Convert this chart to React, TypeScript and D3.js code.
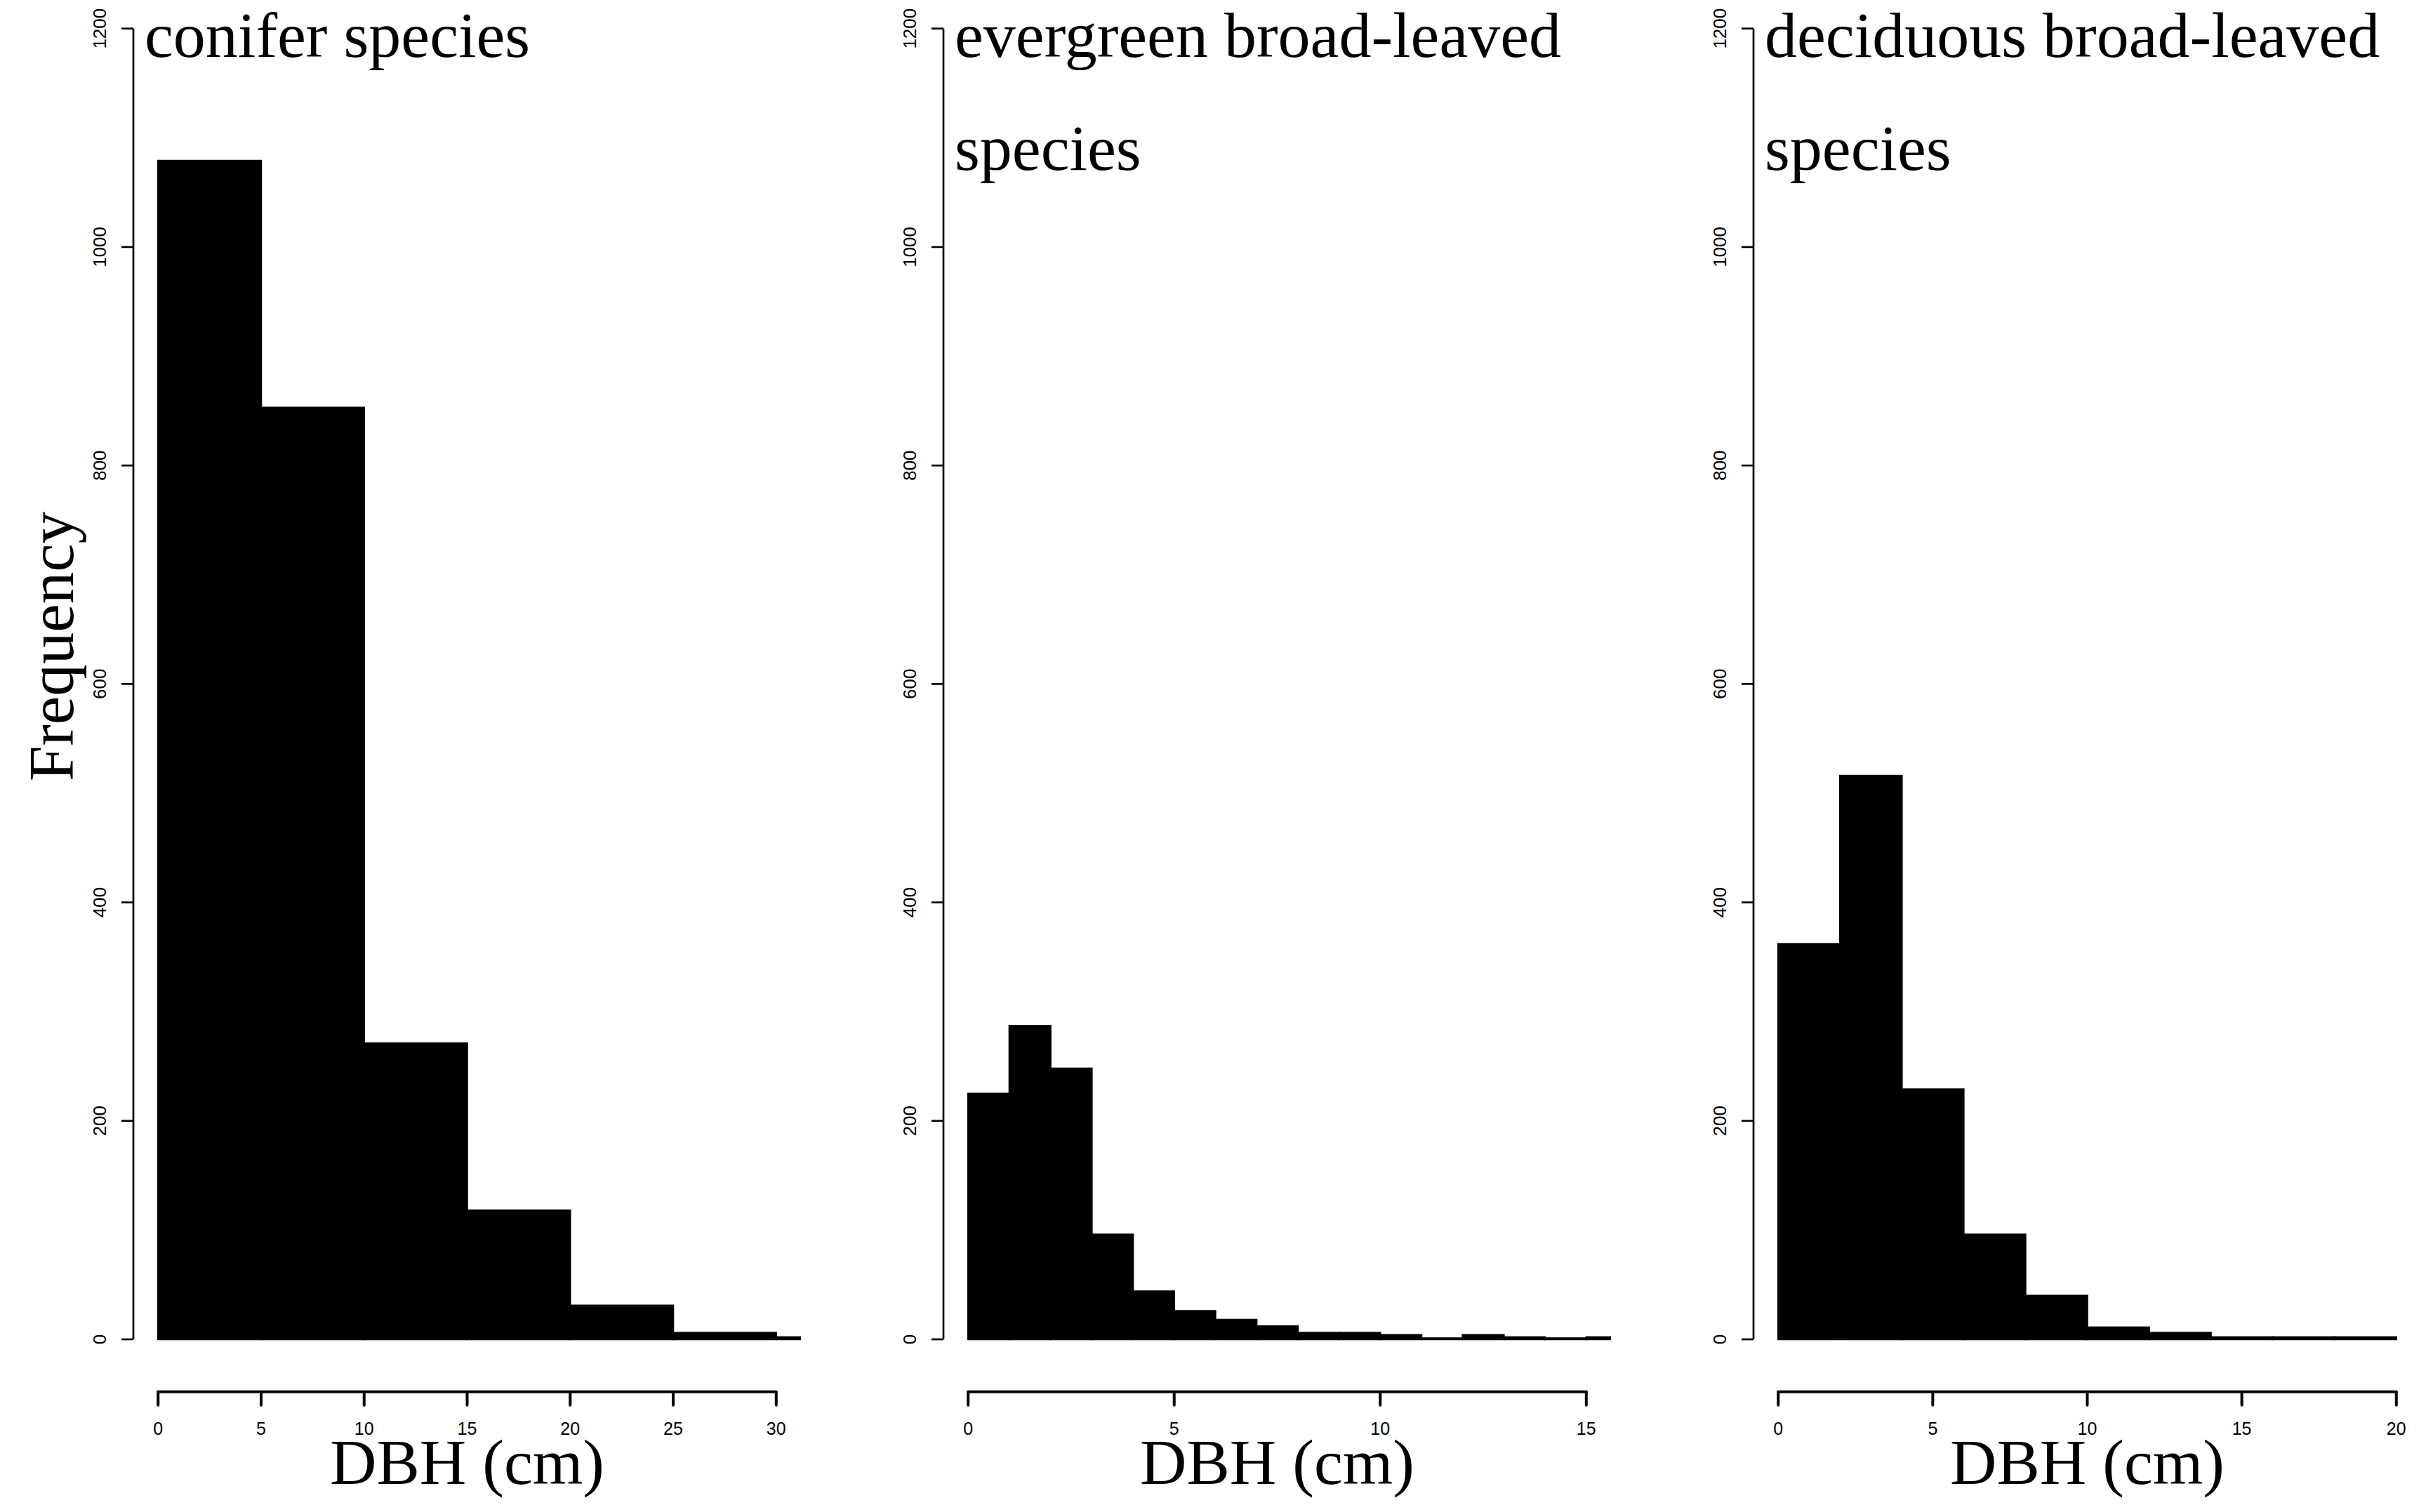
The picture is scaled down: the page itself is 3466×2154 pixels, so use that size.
import React from 'react';
import * as d3 from 'd3';

// histogram data
const coniferBreaks = [0, 5, 10, 15, 20, 25, 30, 35];
const coniferCounts = [1079, 853, 271, 118, 31, 6, 2];
const coniferTicks = [0, 5, 10, 15, 20, 25, 30];

const evergreenBreaks = [0, 1, 2, 3, 4, 5, 6, 7, 8, 9, 10, 11, 12, 13, 14, 15, 16];
const evergreenCounts = [225, 287, 248, 96, 44, 26, 18, 12, 6, 6, 4, 1, 4, 2, 1, 2];
const evergreenTicks = [0, 5, 10, 15];

const deciduousBreaks = [0, 2, 4, 6, 8, 10, 12, 14, 16, 18, 20];
const deciduousCounts = [362, 516, 229, 96, 40, 11, 6, 2, 2, 2];
const deciduousTicks = [0, 5, 10, 15, 20];

const yTicks = [0, 200, 400, 600, 800, 1000, 1200];

const W = 3466;
const H = 2154;
const PLOT_W = 951;
const SERIF = '"Liberation Serif", "Times New Roman", serif';
const SANS = '"Liberation Sans", Arial, sans-serif';

interface PanelProps {
  id: string;
  left: number;
  breaks: number[];
  counts: number[];
  xlim: [number, number];
  xTicks: number[];
  title: string[];
  showYLabel?: boolean;
}

const Panel: React.FC<PanelProps> = ({ id, left, breaks, counts, xlim, xTicks, title, showYLabel }) => {
  // R style 4% axis padding
  const pad = (xlim[1] - xlim[0]) * 0.04;
  const x = d3.scaleLinear().domain([xlim[0] - pad, xlim[1] + pad]).range([left, left + PLOT_W]);
  const y = d3.scaleLinear().domain([-48, 1248]).range([1982.7, -34]);

  const right = left + PLOT_W;
  const axisY = y(-48);
  const cx = (left + right) / 2;

  const bins = counts.map((c, i) => ({ x0: breaks[i], x1: breaks[i + 1], c }));

  return (
    <g>
      <defs>
        <clipPath id={`clip-${id}`}>
          <rect x={left} y={y(1248)} width={PLOT_W} height={axisY - y(1248)} />
        </clipPath>
      </defs>

      {/* bars */}
      <g clipPath={`url(#clip-${id})`}>
        {bins.map((b, i) => (
          <rect
            key={i}
            x={x(b.x0)}
            y={y(b.c)}
            width={x(b.x1) - x(b.x0)}
            height={y(0) - y(b.c)}
            fill="#000"
            stroke="#000"
            strokeWidth={2.5}
          />
        ))}
      </g>

      {/* y axis */}
      <line x1={left} x2={left} y1={y(0)} y2={y(1200)} stroke="#000" strokeWidth={2.7} />
      {yTicks.map((t) => (
        <g key={t}>
          <line x1={left - 17} x2={left} y1={y(t)} y2={y(t)} stroke="#000" strokeWidth={2.7} />
          <text
            transform={`translate(${left - 48},${y(t)}) rotate(-90)`}
            textAnchor="middle"
            dominantBaseline="central"
            fontFamily={SANS}
            fontSize={26}
            fill="#000"
          >
            {t}
          </text>
        </g>
      ))}

      {/* x axis */}
      <line
        x1={x(xTicks[0])}
        x2={x(xTicks[xTicks.length - 1])}
        y1={axisY}
        y2={axisY}
        stroke="#000"
        strokeWidth={4}
        strokeLinecap="round"
      />
      {xTicks.map((t) => (
        <g key={t}>
          <line x1={x(t)} x2={x(t)} y1={axisY} y2={axisY + 19} stroke="#000" strokeWidth={4} strokeLinecap="round" />
          <text x={x(t)} y={2044} textAnchor="middle" fontFamily={SANS} fontSize={25} fill="#000">
            {t}
          </text>
        </g>
      ))}

      <text x={cx} y={2114} textAnchor="middle" fontFamily={SERIF} fontSize={92} fill="#000">
        DBH (cm)
      </text>

      {/* panel title */}
      {title.map((line, i) => (
        <text key={i} x={left + 16} y={81 + i * 161} fontFamily={SERIF} fontSize={92} fill="#000">
          {line}
        </text>
      ))}

      {showYLabel && (
        <text
          transform={`translate(104,921) rotate(-90)`}
          textAnchor="middle"
          fontFamily={SERIF}
          fontSize={91}
          fill="#000"
        >
          Frequency
        </text>
      )}
    </g>
  );
};

export default function App() {
  return (
    <svg
      width={W}
      height={H}
      viewBox={`0 0 ${W} ${H}`}
      style={{ position: 'absolute', left: 0, top: 0, background: '#fff' }}
    >
      <rect width={W} height={H} fill="#fff" />
      <Panel
        id="conifer"
        left={190}
        breaks={coniferBreaks}
        counts={coniferCounts}
        xlim={[0, 30]}
        xTicks={coniferTicks}
        title={['conifer species']}
        showYLabel
      />
      <Panel
        id="evergreen"
        left={1344}
        breaks={evergreenBreaks}
        counts={evergreenCounts}
        xlim={[0, 15]}
        xTicks={evergreenTicks}
        title={['evergreen broad-leaved', 'species']}
      />
      <Panel
        id="deciduous"
        left={2498}
        breaks={deciduousBreaks}
        counts={deciduousCounts}
        xlim={[0, 20]}
        xTicks={deciduousTicks}
        title={['deciduous broad-leaved', 'species']}
      />
    </svg>
  );
}
